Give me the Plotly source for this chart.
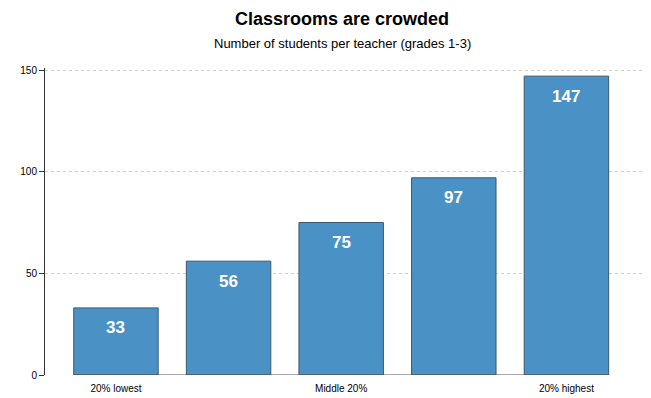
import plotly.graph_objects as go

categories = ["20% lowest", "Second 20%", "Middle 20%", "Fourth 20%", "20% highest"]
values = [33, 56, 75, 97, 147]
tick_positions = [0, 2, 4]
tick_labels = ["20% lowest", "Middle 20%", "20% highest"]
y_ticks = [0, 50, 100, 150]

x = list(range(len(categories)))
BAR_W = 0.75
FONT = "Liberation Sans, Arial"

fig = go.Figure(go.Bar(
    x=x, y=values, width=BAR_W,
    marker=dict(color="#4A92C6", line=dict(color="#3a5870", width=1)),
    hoverinfo="skip",
))

annotations = [
    dict(text="<b>Classrooms are crowded</b>", xref="paper", yref="paper",
         x=0.497, y=1.16, xanchor="center", yanchor="middle", showarrow=False,
         borderpad=0,
         font=dict(size=18, family=FONT, color="black")),
    dict(text="Number of students per teacher (grades 1-3)", xref="paper", yref="paper",
         x=0.497, y=1.08, xanchor="center", yanchor="middle", showarrow=False,
         borderpad=0,
         font=dict(size=13, family=FONT, color="black")),
]
for xi, v in zip(x, values):
    annotations.append(dict(
        text=f"<b>{v}</b>", x=xi, y=v, xref="x", yref="y", showarrow=False,
        yanchor="middle", yshift=-20,
        font=dict(size=17, family=FONT, color="white"),
    ))

fig.update_layout(
    width=651, height=398,
    margin=dict(l=33, r=16, t=60, b=30),
    plot_bgcolor="white", paper_bgcolor="white",
    showlegend=False,
    font=dict(family=FONT, color="black"),
    annotations=annotations,
    shapes=[dict(type="line", xref="x", yref="y",
                 x0=x[0] - BAR_W / 2, x1=x[-1] + BAR_W / 2, y0=0, y1=0,
                 line=dict(color="#555", width=1))],
    xaxis=dict(
        range=[-0.63, 4.68], tickvals=tick_positions, ticktext=tick_labels,
        showgrid=False, zeroline=False, showline=False, ticks="",
        ticklabelstandoff=6,
        tickfont=dict(size=10, family=FONT),
    ),
    yaxis=dict(
        range=[0, 151], tickvals=y_ticks,
        showgrid=True, gridcolor="#d0d0d0", griddash="dot", gridwidth=1,
        zeroline=False, showline=True, linecolor="#333", linewidth=1,
        ticks="outside", ticklen=5, tickcolor="#333",
        tickfont=dict(size=10, family=FONT),
    ),
)

fig.write_html("out.html")
